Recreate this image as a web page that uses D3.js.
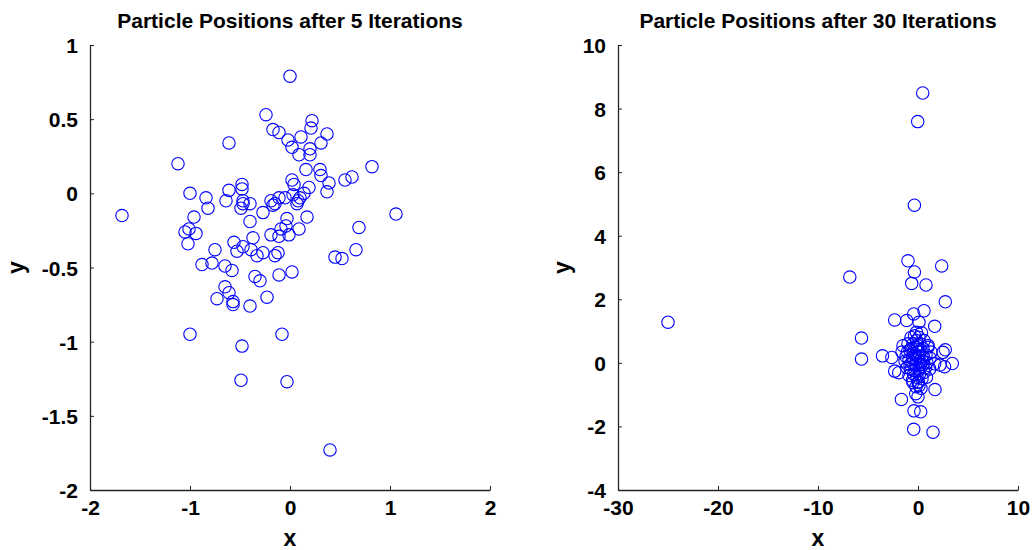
<!DOCTYPE html>
<html>
<head>
<meta charset="utf-8">
<script src="https://cdn.jsdelivr.net/npm/d3@7"></script>
<style>
  body { margin: 0; background: #fff; }
  text { font-family: "Liberation Sans", Arial, sans-serif; font-weight: bold; fill: #000; }
</style>
</head>
<body>
<div id="chart"></div>
<script>
var outerWidth = 1034,
    outerHeight = 550

// particle positions after 5 iterations
var x5 = [0.00, -0.24, 0.22, 0.21, -0.17, -0.11, 0.37, 0.11, -0.02, 0.31,
    -0.61, 0.02, 0.20, 0.09, 0.20, -1.12, 0.82, 0.16, 0.30, 0.31,
    0.62, 0.55, 0.02, -0.48, 0.39, 0.04, -0.48, -0.61, 0.19, 0.37,
    -1.00, -0.84, 0.14, 0.03, -0.05, 0.10, -0.11, -0.64, -0.19, 0.08,
    -0.47, -0.15, -0.40, -0.47, 0.07, -0.17, -0.82, -0.49, -0.27, -1.68,
    1.06, -0.96, 0.17, -0.03, -0.40, -0.04, 0.69, 0.09, -0.09, -1.05,
    -1.01, -0.94, -0.19, -0.11, -0.01, -0.37, -1.02, -0.56, -0.47, -0.75,
    -0.53, -0.39, -0.27, 0.66, -0.12, -0.15, -0.33, 0.45, 0.52, -0.88,
    -0.78, -0.65, -0.58, -0.35, -0.30, -0.11, 0.02, -0.65, -0.61, -0.73,
    -0.57, -0.57, -0.40, -0.23, -1.00, -0.08, -0.48, -0.49, -0.03, 0.40]
var y5 = [0.79, 0.53, 0.49, 0.44, 0.43, 0.41, 0.40, 0.38, 0.36, 0.34,
    0.34, 0.31, 0.30, 0.26, 0.26, 0.20, 0.18, 0.16, 0.16, 0.12,
    0.11, 0.09, 0.09, 0.06, 0.07, 0.06, 0.03, 0.02, 0.04, 0.01,
    0.00, -0.03, 0.00, -0.01, -0.03, -0.03, -0.03, -0.05, -0.05, -0.05,
    -0.05, -0.07, -0.07, -0.07, -0.07, -0.08, -0.10, -0.10, -0.13, -0.15,
    -0.14, -0.16, -0.16, -0.17, -0.19, -0.22, -0.23, -0.24, -0.24, -0.26,
    -0.24, -0.27, -0.28, -0.29, -0.28, -0.30, -0.34, -0.33, -0.36, -0.38,
    -0.39, -0.38, -0.40, -0.38, -0.40, -0.42, -0.42, -0.43, -0.44, -0.48,
    -0.47, -0.49, -0.52, -0.56, -0.59, -0.55, -0.53, -0.63, -0.67, -0.71,
    -0.73, -0.75, -0.76, -0.70, -0.95, -0.95, -1.03, -1.26, -1.27, -1.73]

// particle positions after 30 iterations
var x30 = [0.47, -0.03, -0.36, -1.00, 2.37, -0.36, -6.82, -0.63, 0.80, 2.73,
    -25.0, 0.60, -0.43, -2.33, -1.13, 0.10, 1.67, -5.65, -5.65, -3.55,
    -2.62, -2.33, -1.93, -1.66, -0.40, 0.27, -0.43, 1.50, 1.70, 3.43,
    2.66, 2.73, 2.50, 1.67, 2.20, 0.00, 0.10, -0.23, 0.00, -0.50,
    1.17, 1.00, 1.30, -1.50, -1.60, -0.16, 0.10, -0.70, 0.30, -0.20,
    -0.50, -0.20, 0.20, 0.50, -0.80, -0.40, 0.00, 0.40, 0.80, -1.20,
    -0.90, -0.60, -0.30, 0.10, 0.50, 0.90, -1.10, -0.70, -0.30, 0.20,
    0.60, -0.90, -0.10, 0.40, -0.50, 0.30, -0.15, 0.60, -1.00, 1.20,
    -0.20, 0.00, -0.45, 0.75, -1.30, 0.15, -0.65, 0.45, -0.05, 1.00,
    -0.35, 0.35, -0.80, 0.05, -0.25, 0.25, -1.05, 0.85, -0.55, 0.60]
var y30 = [8.49, 7.59, 4.96, 3.21, 3.05, 2.86, 2.70, 2.50, 2.45, 1.92,
    1.28, 1.64, 1.54, 1.35, 1.33, 1.28, 1.15, 0.78, 0.12, 0.22,
    0.17, -0.26, -0.31, -1.15, -1.51, -1.54, -2.09, -2.18, -0.84, -0.02,
    -0.12, 0.41, 0.33, -0.03, -0.07, -0.61, -0.72, -0.97, -1.07, -0.62,
    -0.19, 0.49, 0.34, 0.54, 0.34, 0.96, 0.80, 0.80, -0.80, -0.75,
    0.60, 0.50, 0.60, 0.45, 0.40, 0.30, 0.35, 0.20, 0.25, 0.20,
    0.10, 0.00, 0.10, 0.05, -0.05, 0.00, -0.15, -0.20, -0.25, -0.20,
    -0.30, -0.40, -0.45, -0.50, 0.15, 0.40, 0.70, 0.70, 0.60, 0.15,
    -0.05, 0.20, -0.35, -0.15, 0.05, -0.35, 0.45, 0.05, 0.55, 0.55,
    0.85, 0.95, -0.05, -0.60, 0.25, -0.05, 0.35, -0.45, -0.55, 0.15]

var xTicks5 = [-2, -1, 0, 1, 2]
var yTicks5 = [-2, -1.5, -1, -0.5, 0, 0.5, 1]
var xTicks30 = [-30, -20, -10, 0, 10]
var yTicks30 = [-4, -2, 0, 2, 4, 6, 8, 10]

var svg = d3.select("#chart")
    .append("svg")
    .attr("width", outerWidth)
    .attr("height", outerHeight)

// plain hyphen for negatives, like matlab does
var fmt = function(d) { return String(d); }

function drawPanel(left, xs, ys, xDomain, yDomain, xTicks, yTicks, title, yLabelOffset) {
    var top = 45, w = 400, h = 445

    var xScale = d3.scaleLinear().domain(xDomain).range([0, w])
    var yScale = d3.scaleLinear().domain(yDomain).range([h, 0])

    var g = svg.append("g")
        .attr("transform", "translate(" + left + "," + top + ")")

    // axes, ticks pointing inwards
    var xAxis = g.append("g")
        .attr("transform", "translate(0," + h + ")")
        .call(d3.axisBottom(xScale).tickValues(xTicks).tickSizeInner(-4).tickSizeOuter(0).tickPadding(10).tickFormat(fmt))
    var yAxis = g.append("g")
        .call(d3.axisLeft(yScale).tickValues(yTicks).tickSizeInner(-4).tickSizeOuter(0).tickPadding(12).tickFormat(fmt))

    g.selectAll(".domain").attr("stroke", "#222").attr("stroke-width", 1.3)
    g.selectAll(".tick line").attr("stroke", "#222")
    g.selectAll(".tick text")
        .attr("font-family", "'Liberation Sans', Arial, sans-serif")
        .attr("font-weight", "bold")
        .attr("font-size", "21px")
        .attr("fill", "#000")
    xAxis.selectAll(".tick text").attr("dy", "0.72em")
    yAxis.selectAll(".tick text").attr("dy", "0.36em")

    g.selectAll("circle")
        .data(xs.map(function(d, i) { return [d, ys[i]]; }))
        .enter()
        .append("circle")
        .attr("cx", d => xScale(d[0]))
        .attr("cy", d => yScale(d[1]))
        .attr("r", 6.2)
        .attr("fill", "none")
        .attr("stroke", "#0000ff")
        .attr("stroke-width", 1.1)

    g.append("text")
        .attr("x", w / 2)
        .attr("y", -17)
        .attr("text-anchor", "middle")
        .attr("font-size", "21px")
        .text(title)

    g.append("text")
        .attr("x", w / 2)
        .attr("y", h + 56)
        .attr("text-anchor", "middle")
        .attr("font-size", "23px")
        .text("x")

    g.append("text")
        .attr("transform", "rotate(-90)")
        .attr("x", -h / 2)
        .attr("y", yLabelOffset)
        .attr("text-anchor", "middle")
        .attr("font-size", "23px")
        .text("y")
}

drawPanel(90, x5, y5, [-2, 2], [-2, 1], xTicks5, yTicks5, "Particle Positions after 5 Iterations", -66)
drawPanel(618, x30, y30, [-30, 10], [-4, 10], xTicks30, yTicks30, "Particle Positions after 30 Iterations", -48)
</script>
</body>
</html>
